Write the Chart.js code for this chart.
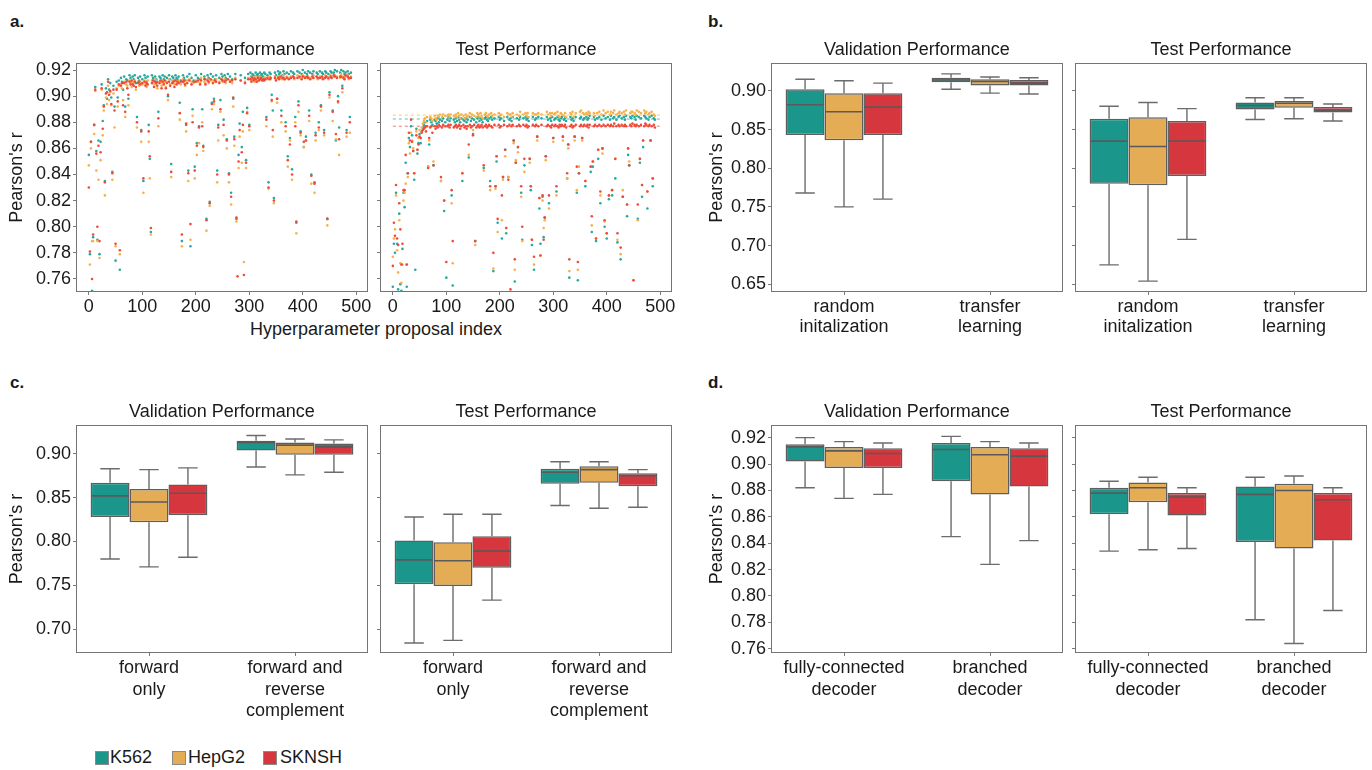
<!DOCTYPE html>
<html>
<head>
<meta charset="utf-8">
<script src="https://cdn.jsdelivr.net/npm/chart.js@4.4.0/dist/chart.umd.min.js"></script>
<style>
  body { margin: 0; background: #fff; }
  #fig { position: relative; width: 1372px; height: 770px; overflow: hidden;
         font-family: "Liberation Sans", Arial, Helvetica, sans-serif; color: #1a1a1a; }
  #fig canvas { position: absolute; }
  .tag { position: absolute; font-weight: bold; font-size: 17px; }
  .note { position: absolute; font-size: 18px; white-space: nowrap; transform: translate(-50%, -50%); }
  .key { position: absolute; width: 12px; height: 12px; border: 1px solid #8a8a8a; top: 751px; }
  .keytxt { position: absolute; font-size: 18px; top: 747px; line-height: 20px; }
</style>
</head>
<body>
<div id="fig">
  <div class="tag" style="left:10px;top:12px">a.</div>
  <div class="tag" style="left:708px;top:12px">b.</div>
  <div class="tag" style="left:10px;top:373px">c.</div>
  <div class="tag" style="left:708px;top:373px">d.</div>
  <div class="note" style="left:376px;top:329px">Hyperparameter proposal index</div>

  <canvas id="aVal"></canvas>
  <canvas id="aTest"></canvas>
  <canvas id="bVal"></canvas>
  <canvas id="bTest"></canvas>
  <canvas id="cVal"></canvas>
  <canvas id="cTest"></canvas>
  <canvas id="dVal"></canvas>
  <canvas id="dTest"></canvas>

  <div class="key" style="left:95px;background:#1a968a"></div>
  <div class="keytxt" style="left:110px">K562</div>
  <div class="key" style="left:172px;background:#e4ad55"></div>
  <div class="keytxt" style="left:188px">HepG2</div>
  <div class="key" style="left:263px;background:#d6373f"></div>
  <div class="keytxt" style="left:280px">SKNSH</div>
</div>
<script>
// ---- data ----
const cellLines = ['K562', 'HepG2', 'SKNSH']
const boxColors = ['#1a968a', '#e4ad55', '#d6373f']
const dotColors = ['#27a99d', '#f7b14b', '#ef4a3c']

// panel a: hyperparameter search, one point per proposal (every 2nd proposal), Pearson's r x 1000
const proposalIndex = [
  0, 2, 4, 6, 8, 10, 12, 14, 16, 18, 20, 22, 24, 26, 28, 30, 32, 34, 36, 38,
  40, 42, 44, 46, 48, 50, 52, 54, 56, 58, 60, 62, 64, 66, 68, 70, 72, 74, 76, 78,
  80, 82, 84, 86, 88, 90, 92, 94, 96, 98, 100, 102, 104, 106, 108, 110, 112, 114, 116, 118,
  120, 122, 124, 126, 128, 130, 132, 134, 136, 138, 140, 142, 144, 146, 148, 150, 152, 154, 156, 158,
  160, 162, 164, 166, 168, 170, 172, 174, 176, 178, 180, 182, 184, 186, 188, 190, 192, 194, 196, 198,
  200, 202, 204, 206, 208, 210, 212, 214, 216, 218, 220, 222, 224, 226, 228, 230, 232, 234, 236, 238,
  240, 242, 244, 246, 248, 250, 252, 254, 256, 258, 260, 262, 264, 266, 268, 270, 272, 274, 276, 278,
  280, 282, 284, 286, 288, 290, 292, 294, 296, 298, 300, 302, 304, 306, 308, 310, 312, 314, 316, 318,
  320, 322, 324, 326, 328, 330, 332, 334, 336, 338, 340, 342, 344, 346, 348, 350, 352, 354, 356, 358,
  360, 362, 364, 366, 368, 370, 372, 374, 376, 378, 380, 382, 384, 386, 388, 390, 392, 394, 396, 398,
  400, 402, 404, 406, 408, 410, 412, 414, 416, 418, 420, 422, 424, 426, 428, 430, 432, 434, 436, 438,
  440, 442, 444, 446, 448, 450, 452, 454, 456, 458, 460, 462, 464, 466, 468, 470, 472, 474, 476, 478,
  480, 482, 484, 486, 488, 490
]

const valK562 = [
  855,779,865,751,792,878,907,858,790,866, 779,865,909,881,893,835,906,898,913,905,
  910,899,842,908,892,774,911,899,912,767, 914,911,905,915,892,913,912,898,916,914,
  911,915,913,916,910,884,914,912,915,874, 913,835,916,914,911,915,878,852,796,916,
  914,912,915,913,911,888,915,914,912,916, 913,915,911,914,900,916,913,848,915,914,
  912,916,914,913,915,895,912,789,916,914, 912,878,915,843,917,785,914,890,912,846,
  916,864,914,877,913,917,890,862,915,913, 806,916,914,819,917,895,915,898,913,916,
  843,878,914,897,917,915,882,916,914,867, 917,841,915,826,913,898,869,917,806,null,
  855,879,916,861,888,null,914,851,891,917, 878,918,915,917,916,914,918,916,917,915,
  918,916,917,915,918,917,884,916,834,918, 917,901,889,822,918,916,898,919,917,918,
  889,916,919,917,880,918,854,917,868,919, 844,918,917,884,803,919,896,918,873,917,
  920,861,918,869,917,919,889,918,840,917, 919,834,872,918,917,880,919,893,918,917,
  874,919,918,806,917,903,919,918,889,918, 920,866,919,900,876,918,920,908,919,917,
  918,874,919,917,884,918
]
const valHepG2 = [
  847,771,860,789,789,871,904,843,789,836, 776,851,905,870,889,824,899,894,908,897,
  903,893,836,902,876,785,906,892,908,779, 909,906,897,911,884,909,908,893,912,910,
  907,911,910,912,905,876,911,908,911,865, 909,826,912,909,907,912,865,837,794,912,
  911,909,913,909,906,877,911,910,908,912, 910,911,907,911,897,913,909,838,912,910,
  909,912,911,910,912,882,909,785,913,910, 908,873,912,835,913,790,911,885,910,837,
  912,855,911,864,910,914,880,858,911,910, 797,913,910,816,912,890,912,894,911,913,
  834,866,911,888,913,911,870,913,910,860, 913,834,912,817,910,892,862,914,804,null,
  845,869,912,849,873,773,911,845,888,914, 874,914,912,913,913,911,915,912,914,912,
  915,913,913,912,914,914,877,913,829,915, 913,896,869,818,915,913,895,915,914,914,
  880,913,916,913,873,915,846,914,866,915, 836,915,913,880,795,916,888,914,870,914,
  916,861,915,866,914,915,881,914,833,914, 916,826,866,915,913,874,915,889,914,914,
  870,916,915,801,913,899,916,914,881,915, 916,867,915,895,855,914,917,903,915,914,
  915,869,916,913,872,915
]
const valSKNSH = [
  830,781,865,760,794,878,905,856,800,862, 789,857,906,875,892,834,902,903,911,901,
  904,894,841,905,889,787,905,896,909,782, 908,910,893,910,888,911,906,901,911,909,
  912,909,908,911,907,880,910,911,909,873, 910,837,911,908,910,909,873,854,799,910,
  912,907,911,910,908,883,910,912,906,911, 909,912,906,910,901,911,908,842,910,911,
  907,912,909,911,910,887,911,794,911,912, 909,879,910,841,912,802,909,880,911,843,
  911,862,912,876,909,912,877,861,913,909, 805,912,911,818,913,894,910,896,912,911,
  840,876,910,890,913,912,878,911,912,866, 913,840,911,823,912,899,867,913,807,762,
  850,874,912,857,878,763,910,849,887,913, 877,913,911,914,912,913,913,911,914,912,
  913,914,912,913,912,913,882,914,830,913, 914,897,874,820,914,912,898,914,913,915,
  885,914,914,913,877,914,851,913,863,914, 840,915,914,877,804,914,893,915,872,913,
  915,865,914,866,915,914,885,913,839,915, 914,833,870,915,914,876,914,892,915,913,
  872,914,915,806,914,901,915,914,888,916, 915,871,914,896,867,915,915,906,914,913,
  916,872,915,914,880,914
]

const testK562 = [
  754,787,780,826,787,752,810,756,751,783, 826,815,849,754,841,868,861,877,870,858,
  836,767,875,856,864,871,864,873,876,878, 880,877,881,846,863,882,880,878,847,882,
  881,879,883,880,882,835,881,883,812,880, 761,882,884,881,883,824,755,882,880,883,
  881,884,882,880,883,835,882,881,883,880, 882,853,884,881,883,871,882,789,880,883,
  884,881,883,882,880,845,883,884,882,881, 883,835,884,882,766,883,831,850,803,884,
  882,883,791,838,881,859,795,884,838,882, 883,881,884,866,758,849,883,861,882,884,
  826,790,883,847,884,882,883,881,852,828, 786,884,767,882,883,869,884,814,787,883,
  823,792,807,854,884,882,818,883,881,884, 868,882,883,827,884,882,881,883,884,869,
  882,883,881,837,863,761,884,882,883,881, 869,884,826,759,841,883,884,868,882,883,
  831,884,882,883,885,842,796,846,884,882, 789,883,852,884,818,882,860,885,800,883,
  791,884,821,882,885,824,883,884,837,882, 788,884,885,775,883,823,884,882,885,808,
  855,847,884,883,885,null,884,882,885,806, 884,849,883,823,861,885,884,883,814,882,
  884,866,885,831,883,882
]
const testHepG2 = [
  777,791,798,824,782,765,805,772,757,771, 820,826,833,771,838,864,856,872,866,860,
  841,null,873,859,868,874,868,876,879,881, 883,880,884,846,866,884,883,881,850,885,
  883,882,885,884,886,835,884,886,820,885, 750,885,886,884,886,818,772,885,884,886,
  884,887,885,883,886,841,885,883,886,884, 885,855,887,884,886,874,885,786,884,887,
  886,884,887,885,883,843,886,887,885,884, 886,828,887,885,768,886,829,854,796,887,
  885,886,805,836,884,854,799,887,838,886, 886,884,887,864,767,851,886,857,885,888,
  823,789,886,842,887,885,887,884,849,831, 790,887,771,886,886,866,887,822,778,886,
  820,799,805,851,888,886,814,887,885,887, 865,886,887,824,888,885,884,887,886,866,
  885,887,884,837,860,766,887,886,888,884, 866,887,828,767,846,888,889,866,887,886,
  835,887,886,888,887,846,801,850,887,885, 791,887,859,888,824,886,856,889,804,887,
  795,888,824,886,888,828,887,889,852,886, 790,887,888,779,887,828,888,886,889,817,
  860,850,887,888,888,759,887,886,889,805, 888,852,887,832,866,889,887,888,827,886,
  887,866,888,837,886,885
]
const testSKNSH = [
  770,803,793,832,791,786,818,798,771,787, 828,828,855,771,841,872,866,882,865,858,
  841,null,870,859,863,869,868,872,874,875, 876,873,877,845,868,876,877,872,847,877,
  875,877,876,878,877,838,876,878,820,877, 773,877,878,876,878,828,789,876,877,878,
  876,877,878,875,877,841,878,876,877,875, 877,863,878,876,877,870,878,789,876,877,
  878,876,877,878,876,847,877,878,876,877, 878,831,877,876,780,878,831,854,806,878,
  876,877,824,838,878,859,799,877,836,878, 752,877,878,866,775,849,877,861,878,877,
  831,800,878,852,877,878,876,877,852,831, 790,878,777,877,878,869,877,822,778,878,
  824,790,807,854,877,878,824,877,876,878, 868,877,878,831,877,876,878,877,878,869,
  877,878,876,841,863,775,877,878,876,877, 869,878,846,773,841,877,878,868,877,878,
  835,877,878,876,878,846,808,850,877,878, 791,877,859,878,827,877,860,878,805,877,
  795,878,824,877,878,828,877,879,852,877, 795,878,877,784,878,823,877,878,877,817,
  860,847,878,877,879,759,878,877,878,817, 877,852,878,832,866,877,879,878,827,877,
  878,866,877,837,878,876
]
// dashed reference levels in the test panel (K562, HepG2, SKNSH)
const testRefLevels = [0.8825, 0.8855, 0.877]

// panels b-d: box summaries [lower whisker, Q1, median, Q3, upper whisker], one per category
const initLabels = [['random', 'initalization'], ['transfer', 'learning']]
const initValK562 = [[0.768, 0.843, 0.882, 0.902, 0.915], [0.902, 0.911, 0.914, 0.917, 0.922]]
const initValHepG2 = [[0.750, 0.836, 0.873, 0.897, 0.913], [0.897, 0.907, 0.912, 0.915, 0.918]]
const initValSKNSH = [[0.760, 0.843, 0.879, 0.897, 0.910], [0.896, 0.907, 0.910, 0.914, 0.917]]
const initTestK562 = [[0.675, 0.780, 0.835, 0.864, 0.880], [0.863, 0.876, 0.881, 0.885, 0.891]]
const initTestHepG2 = [[0.654, 0.778, 0.828, 0.866, 0.885], [0.864, 0.878, 0.884, 0.887, 0.891]]
const initTestSKNSH = [[0.708, 0.790, 0.835, 0.861, 0.877], [0.861, 0.872, 0.875, 0.879, 0.883]]

const strandLabels = [['forward', 'only'], ['forward and', 'reverse', 'complement']]
const strandValK562 = [[0.780, 0.828, 0.852, 0.867, 0.883], [0.885, 0.904, 0.913, 0.915, 0.921]]
const strandValHepG2 = [[0.771, 0.822, 0.845, 0.860, 0.882], [0.876, 0.899, 0.910, 0.913, 0.917]]
const strandValSKNSH = [[0.782, 0.830, 0.855, 0.865, 0.884], [0.879, 0.899, 0.908, 0.912, 0.916]]
const strandTestK562 = [[0.684, 0.751, 0.779, 0.801, 0.828], [0.841, 0.866, 0.879, 0.883, 0.891]]
const strandTestHepG2 = [[0.687, 0.749, 0.778, 0.799, 0.831], [0.838, 0.867, 0.882, 0.886, 0.891]]
const strandTestSKNSH = [[0.733, 0.770, 0.789, 0.806, 0.831], [0.839, 0.863, 0.875, 0.878, 0.882]]

const decoderLabels = [['fully-connected', 'decoder'], ['branched', 'decoder']]
const decoderValK562 = [[0.882, 0.902, 0.913, 0.915, 0.920], [0.845, 0.887, 0.911, 0.916, 0.921]]
const decoderValHepG2 = [[0.874, 0.897, 0.910, 0.913, 0.917], [0.824, 0.877, 0.907, 0.913, 0.917]]
const decoderValSKNSH = [[0.877, 0.897, 0.908, 0.912, 0.916], [0.842, 0.883, 0.906, 0.912, 0.916]]
const decoderTestK562 = [[0.834, 0.862, 0.878, 0.882, 0.887], [0.782, 0.841, 0.877, 0.883, 0.890]]
const decoderTestHepG2 = [[0.835, 0.871, 0.882, 0.886, 0.890], [0.764, 0.836, 0.880, 0.885, 0.891]]
const decoderTestSKNSH = [[0.836, 0.861, 0.875, 0.878, 0.882], [0.789, 0.842, 0.873, 0.878, 0.882]]

// ---- drawing ----
const INK = '#1a1a1a'
const TICK = '#7a7a7a'
const TITLE_H = 28
const FONT = '"Liberation Sans", Arial, Helvetica, sans-serif'

Chart.defaults.font.family = FONT
Chart.defaults.font.size = 18
Chart.defaults.color = INK

const framePlugin = { // grey box round the plot area
  id: 'frame',
  afterDraw(chart) {
    const {ctx, chartArea: a} = chart
    ctx.save()
    ctx.strokeStyle = '#747474'
    ctx.lineWidth = 1
    ctx.strokeRect(a.left + 0.5, a.top + 0.5, a.right - a.left - 1, a.bottom - a.top - 1)
    ctx.restore()
  }
}

const whiskerPlugin = { // whiskers + median on top of the floating-bar boxes
  id: 'whiskers',
  afterDatasetsDraw(chart) {
    const {ctx} = chart
    const y = chart.scales.y
    ctx.save()
    chart.data.datasets.forEach((ds, k) => {
      if (!ds.stats) return
      chart.getDatasetMeta(k).data.forEach((bar, i) => {
        const [lo, q1, med, q3, hi] = ds.stats[i].map(v => y.getPixelForValue(v))
        const half = bar.width / 2, cap = bar.width / 4
        ctx.strokeStyle = '#6c6c6c'
        ctx.lineWidth = 1.4
        ctx.beginPath()
        ctx.moveTo(bar.x, q3); ctx.lineTo(bar.x, hi)
        ctx.moveTo(bar.x - cap, hi); ctx.lineTo(bar.x + cap, hi)
        ctx.moveTo(bar.x, q1); ctx.lineTo(bar.x, lo)
        ctx.moveTo(bar.x - cap, lo); ctx.lineTo(bar.x + cap, lo)
        ctx.stroke()
        ctx.strokeStyle = '#5a5a5a'
        ctx.lineWidth = 1.6
        ctx.beginPath()
        ctx.moveTo(bar.x - half + 1, med); ctx.lineTo(bar.x + half - 1, med)
        ctx.stroke()
      })
    })
    ctx.restore()
  }
}

function yScale(min, max, step, yW, labelled) {
  return {
    min, max,
    afterFit: s => { s.width = yW; s.paddingTop = 0; s.paddingBottom = 0 },
    grid: {drawOnChartArea: false, tickLength: 3, color: TICK},
    border: {display: false},
    ticks: {stepSize: step, includeBounds: false, padding: 2, color: INK,
            callback: v => labelled ? v.toFixed(2) : ''},
    title: {display: labelled, text: "Pearson's r", color: INK, padding: {top: 6, bottom: 0}}
  }
}

function fitX(xH) {
  return s => { s.height = xH; s.paddingLeft = 0; s.paddingRight = 0 }
}

function options(title, xScale, y) {
  return {
    responsive: false, animation: false, devicePixelRatio: 1, events: [],
    layout: {padding: {left: 0, right: 4, top: 0, bottom: 0}},
    plugins: {
      legend: {display: false},
      tooltip: {enabled: false},
      title: {display: true, text: title, fullSize: false, color: INK,
              font: {size: 18, weight: 'normal', lineHeight: 1.2}, padding: {top: 4.4, bottom: 2}}
    },
    scales: {x: xScale, y}
  }
}

function place(id, frame, yW, xH) {
  const c = document.getElementById(id)
  const w = frame.r - frame.l + yW + 4
  const h = TITLE_H + frame.b - frame.t + xH
  c.width = w
  c.height = h
  Object.assign(c.style, {left: (frame.l - yW) + 'px', top: (frame.t - TITLE_H) + 'px',
                          width: w + 'px', height: h + 'px'})
  return c
}

function scatterPanel(id, title, frame, yW, labelled, series, refLevels) {
  const xH = 30
  const sets = []
  // last dataset is drawn first, so SKNSH goes first to end up on top
  ;[2, 1, 0].forEach(k => {
    sets.push({
      type: 'scatter', label: cellLines[k],
      data: proposalIndex.map((p, i) => ({x: p, y: series[k][i] == null ? null : series[k][i] / 1000})),
      pointRadius: 1.3, pointBorderWidth: 0, backgroundColor: dotColors[k], borderColor: dotColors[k]
    })
  })
  if (refLevels) {
    refLevels.forEach((v, k) => {
      sets.push({
        type: 'line', label: cellLines[k] + ' level',
        data: [{x: 0, y: v}, {x: 500, y: v}],
        borderColor: dotColors[k] + 'bb', borderWidth: 1, borderDash: [3, 3], pointRadius: 0
      })
    })
  }
  const xScale = {
    type: 'linear', min: -24, max: 522, afterFit: fitX(xH),
    grid: {drawOnChartArea: false, tickLength: 3, color: TICK}, border: {display: false},
    ticks: {stepSize: 100, includeBounds: false, padding: 1, maxRotation: 0, color: INK}
  }
  return new Chart(place(id, frame, yW, xH), {
    type: 'scatter',
    data: {datasets: sets},
    options: options(title, xScale, yScale(0.75, 0.9254, 0.02, yW, labelled)),
    plugins: [framePlugin]
  })
}

function boxPanel(id, title, frame, yW, xH, labelled, labels, summaries, yMin, yMax, yStep, lineH) {
  const sets = summaries.map((rows, k) => ({
    label: cellLines[k],
    data: rows.map(r => [r[1], r[3]]),
    stats: rows,
    backgroundColor: boxColors[k],
    borderColor: '#5e5e5e', borderWidth: 1.5, borderSkipped: false,
    barPercentage: 1, categoryPercentage: 0.8
  }))
  const xScale = {
    type: 'category', afterFit: fitX(xH),
    grid: {offset: false, drawOnChartArea: false, tickLength: 3, color: TICK}, border: {display: false},
    ticks: {padding: 12 - 9 * lineH, maxRotation: 0, autoSkip: false, color: INK,
            font: {size: 18, lineHeight: lineH}}
  }
  return new Chart(place(id, frame, yW, xH), {
    type: 'bar',
    data: {labels, datasets: sets},
    options: options(title, xScale, yScale(yMin, yMax, yStep, yW, labelled)),
    plugins: [framePlugin, whiskerPlugin]
  })
}

const topRow = {t: 63, b: 292}
const botRow = {t: 425, b: 653}

scatterPanel('aVal', 'Validation Performance', {l: 76, r: 368, ...topRow}, 76, true,
  [valK562, valHepG2, valSKNSH])
scatterPanel('aTest', 'Test Performance', {l: 380, r: 672, ...topRow}, 6, false,
  [testK562, testHepG2, testSKNSH], testRefLevels)

boxPanel('bVal', 'Validation Performance', {l: 771, r: 1063, ...topRow}, 71, 50, true, initLabels,
  [initValK562, initValHepG2, initValSKNSH], 0.64, 0.936, 0.05, 1.11)
boxPanel('bTest', 'Test Performance', {l: 1075, r: 1367, ...topRow}, 6, 50, false, initLabels,
  [initTestK562, initTestHepG2, initTestSKNSH], 0.64, 0.936, 0.05, 1.11)

boxPanel('cVal', 'Validation Performance', {l: 76, r: 368, ...botRow}, 76, 75, true, strandLabels,
  [strandValK562, strandValHepG2, strandValSKNSH], 0.6726, 0.933, 0.05, 1.2)
boxPanel('cTest', 'Test Performance', {l: 380, r: 672, ...botRow}, 6, 75, false, strandLabels,
  [strandTestK562, strandTestHepG2, strandTestSKNSH], 0.6726, 0.933, 0.05, 1.2)

boxPanel('dVal', 'Validation Performance', {l: 771, r: 1063, ...botRow}, 71, 55, true, decoderLabels,
  [decoderValK562, decoderValHepG2, decoderValSKNSH], 0.7568, 0.9296, 0.02, 1.2)
boxPanel('dTest', 'Test Performance', {l: 1075, r: 1367, ...botRow}, 6, 55, false, decoderLabels,
  [decoderTestK562, decoderTestHepG2, decoderTestSKNSH], 0.7568, 0.9296, 0.02, 1.2)
</script>
</body>
</html>
